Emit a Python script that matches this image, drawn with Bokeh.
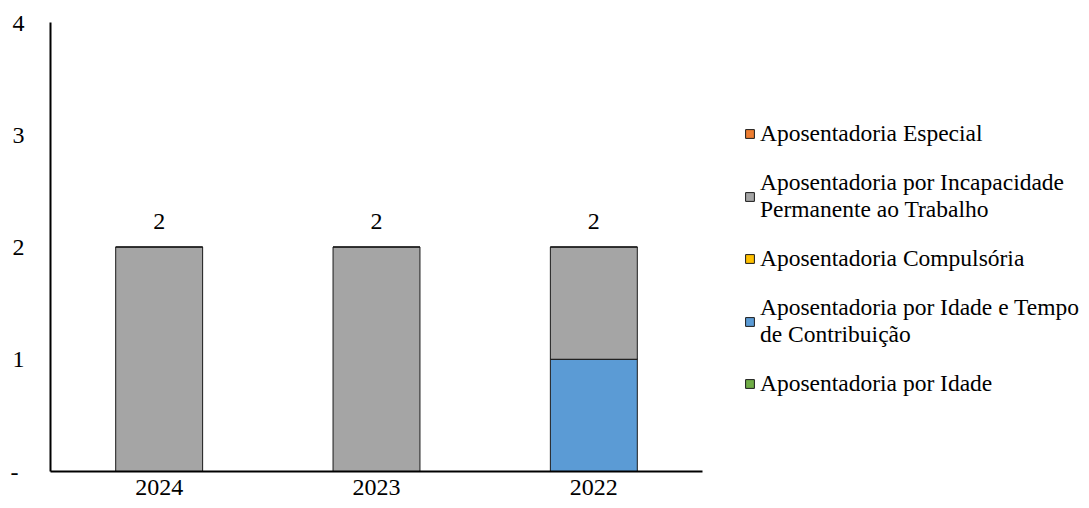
from bokeh.plotting import figure
from bokeh.models import ColumnDataSource, Legend, LegendItem, LabelSet, FixedTicker, Range1d
from bokeh.embed import file_html
from bokeh.resources import INLINE

# ---- data ----
years = ["2024", "2023", "2022"]
por_idade = [0, 0, 0]
idade_tempo = [0, 0, 1]
compulsoria = [0, 0, 0]
incapacidade = [2, 2, 1]
especial = [0, 0, 0]

stack_keys = ["por_idade", "idade_tempo", "compulsoria", "incapacidade", "especial"]
stack_labels = [
    "Aposentadoria por Idade",
    "Aposentadoria por Idade e Tempo\nde Contribuição",
    "Aposentadoria Compulsória",
    "Aposentadoria por Incapacidade\nPermanente ao Trabalho",
    "Aposentadoria Especial",
]
stack_colors = ["#70AD47", "#5B9BD5", "#FFC000", "#A5A5A5", "#ED7D31"]

y_ticks = [0, 1, 2, 3, 4]
y_tick_labels = ["-\u00a0", "1", "2", "3", "4"]

totals = [a + b + c + d + e for a, b, c, d, e in zip(por_idade, idade_tempo, compulsoria, incapacidade, especial)]

source = ColumnDataSource(dict(
    years=years,
    por_idade=por_idade,
    idade_tempo=idade_tempo,
    compulsoria=compulsoria,
    incapacidade=incapacidade,
    especial=especial,
    total=totals,
    total_label=[str(t) for t in totals],
))

FONT = "Liberation Serif"

p = figure(
    x_range=years,
    y_range=Range1d(0, 4),
    frame_width=652,
    frame_height=449,
    min_border_left=50,
    min_border_top=22,
    min_border_bottom=30,
    min_border_right=0,
    output_backend="svg",
    toolbar_location=None,
)

renderers = p.vbar_stack(
    stack_keys, x="years", width=0.4, source=source,
    color=stack_colors, line_color="#1a1a1a", line_width=1,
)

labels = LabelSet(
    x="years", y="total", text="total_label", source=source,
    y_offset=26, text_align="center", text_baseline="middle",
    text_font=FONT, text_font_size="24px", text_color="black",
)
p.add_layout(labels)

items = [LegendItem(label=lab, renderers=[r]) for lab, r in zip(stack_labels, renderers)]
items = items[::-1]
legend = Legend(
    items=items,
    location=(42, 74),
    orientation="vertical",
    border_line_color=None,
    background_fill_alpha=0,
    padding=0,
    margin=0,
    spacing=22,
    glyph_width=11,
    glyph_height=11,
    label_standoff=5,
    label_text_font=FONT,
    label_text_font_size="23.5px",
    label_text_line_height=0.9,
    label_text_color="black",
)
p.add_layout(legend, "right")

p.xgrid.grid_line_color = None
p.ygrid.grid_line_color = None
p.outline_line_color = None

p.yaxis.ticker = FixedTicker(ticks=y_ticks)
p.yaxis.major_label_overrides = {t: l for t, l in zip(y_ticks, y_tick_labels)}
p.yaxis.major_tick_line_color = None
p.yaxis.minor_tick_line_color = None
p.yaxis.major_tick_out = 0
p.yaxis.major_label_standoff = 26
p.yaxis.axis_line_width = 2
p.yaxis.axis_line_color = "black"
p.yaxis.major_label_text_font = FONT
p.yaxis.major_label_text_font_size = "24px"
p.yaxis.major_label_text_color = "black"

p.xaxis.major_tick_line_color = None
p.xaxis.major_tick_out = 0
p.xaxis.major_label_standoff = 8
p.xaxis.axis_line_width = 2
p.xaxis.axis_line_color = "black"
p.xaxis.major_label_text_font = FONT
p.xaxis.major_label_text_font_size = "24px"
p.xaxis.major_label_text_color = "black"

open("out.html", "w").write(file_html(p, INLINE))
